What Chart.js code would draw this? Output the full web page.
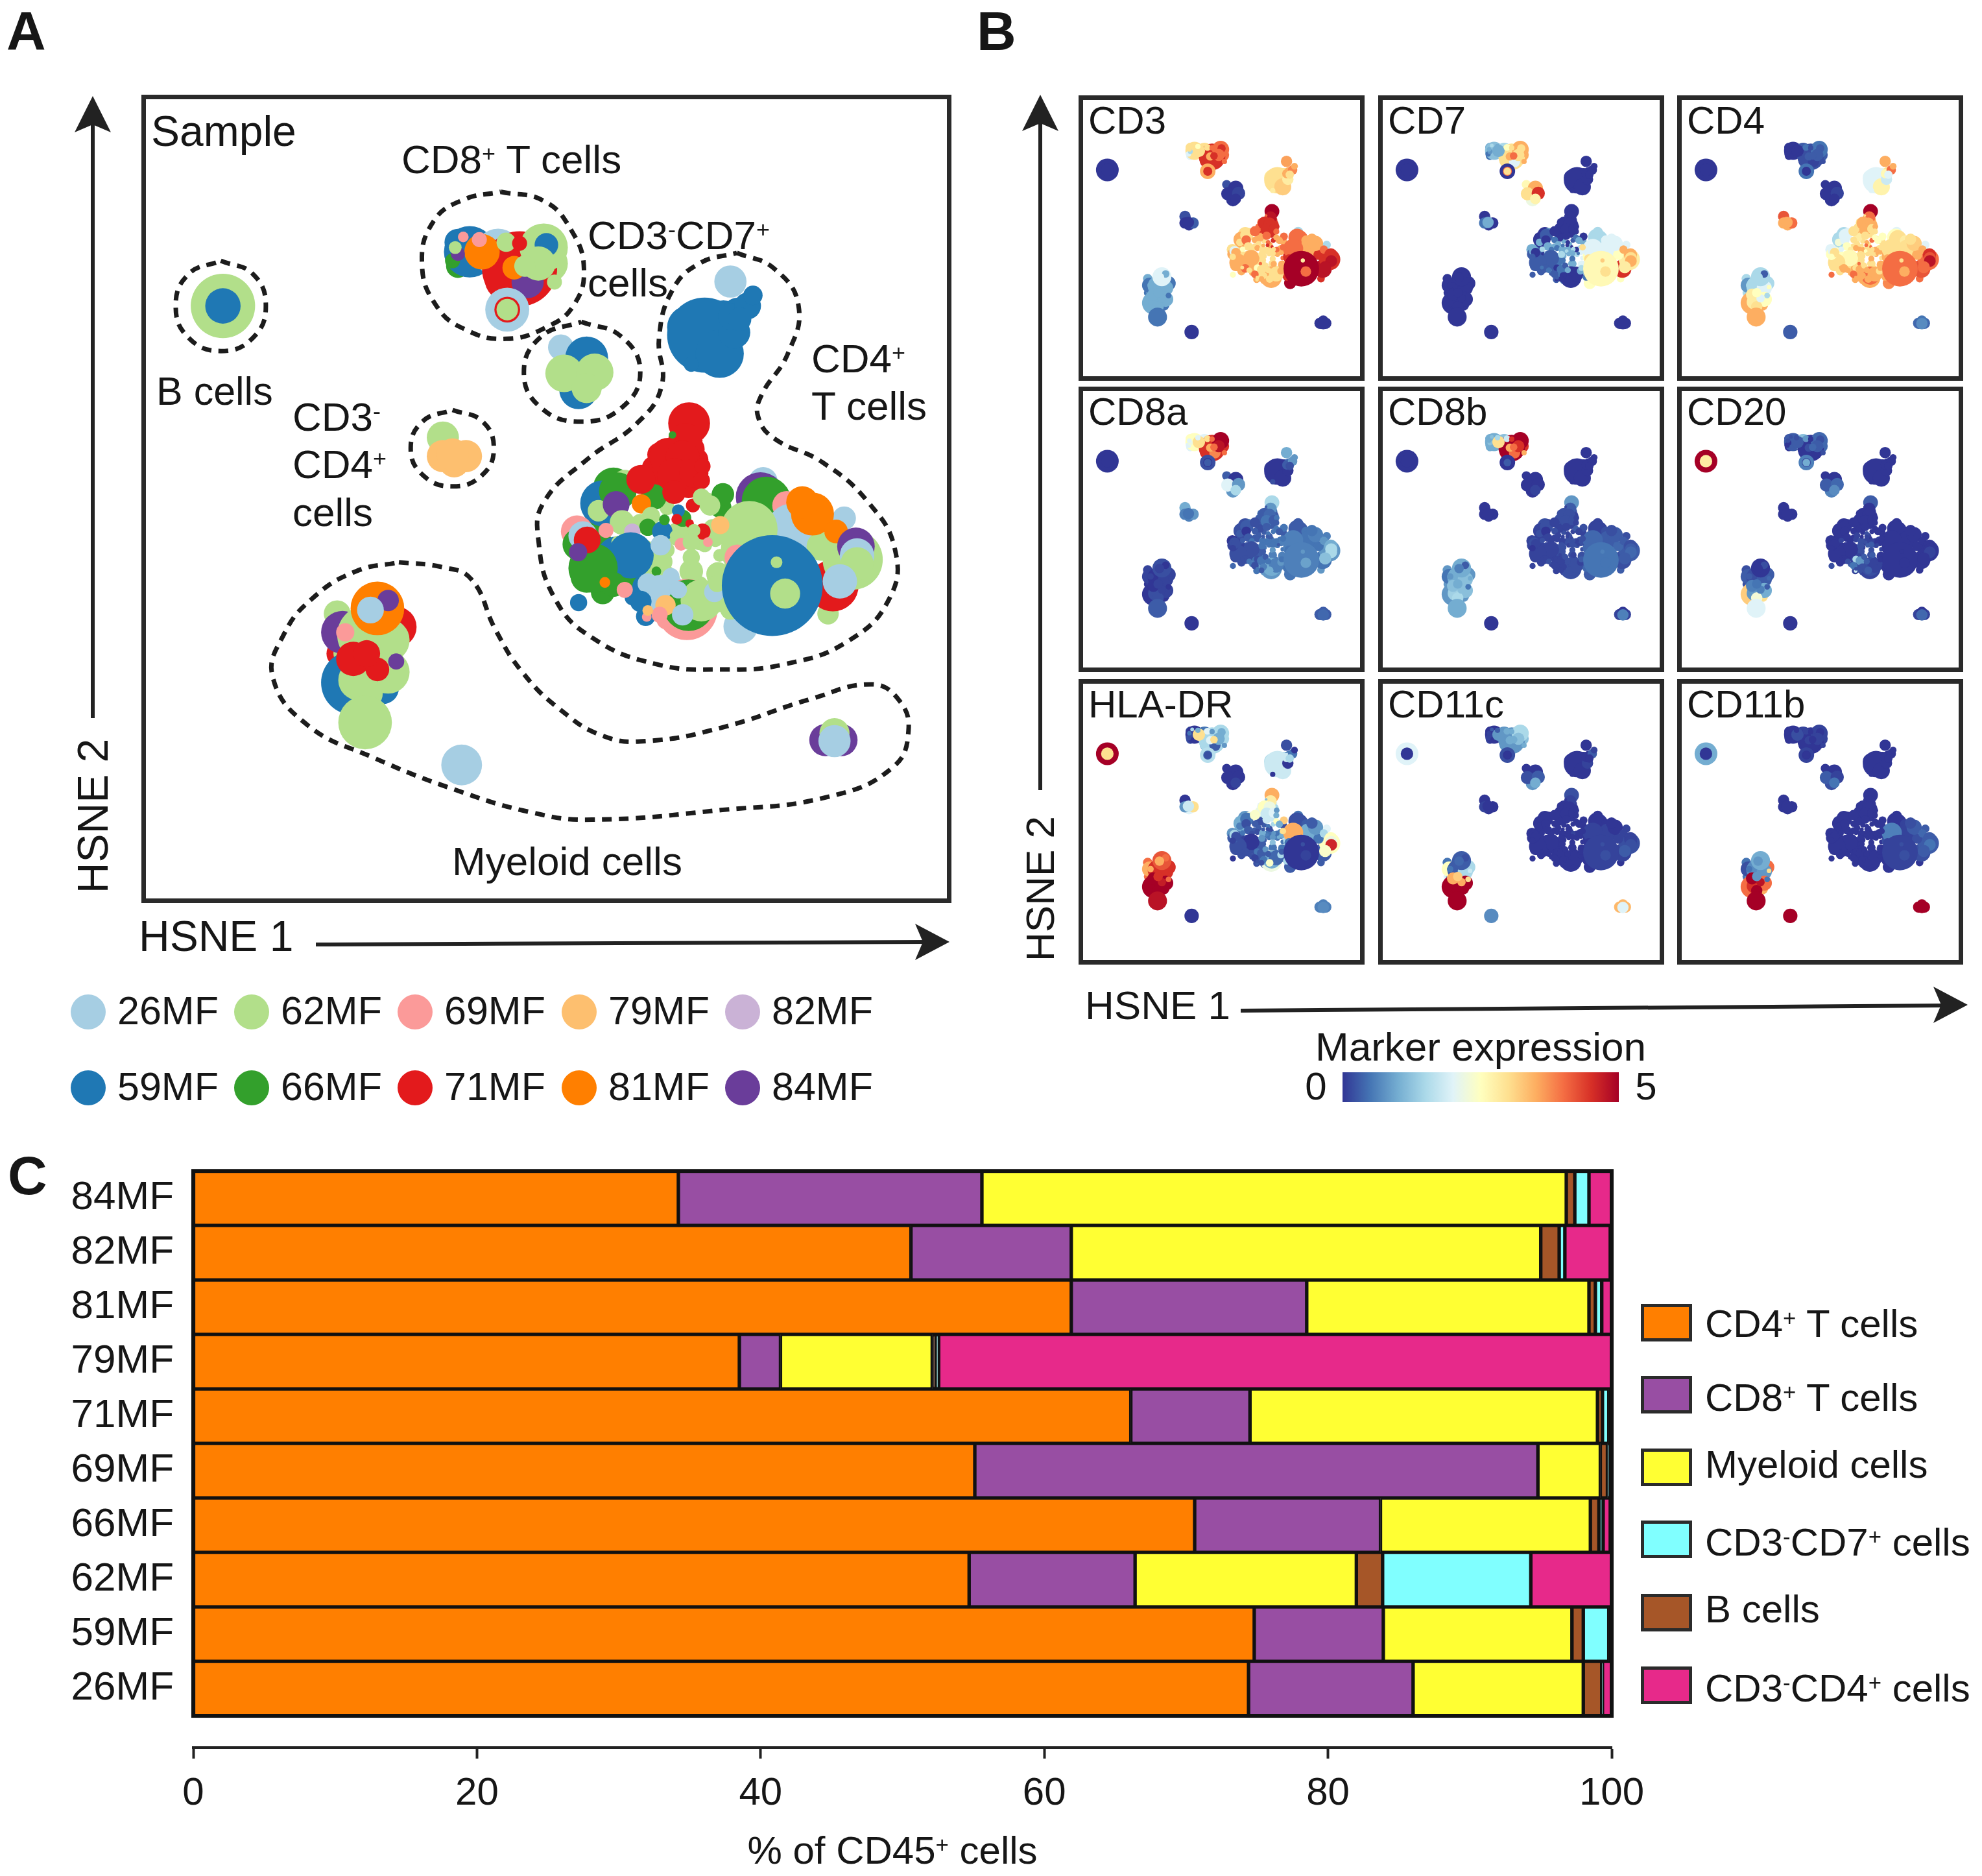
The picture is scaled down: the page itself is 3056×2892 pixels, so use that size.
<!DOCTYPE html>
<html>
<head>
<meta charset="utf-8">
<script src="https://cdn.jsdelivr.net/npm/chart.js@4"></script>
<style>
  html, body { margin: 0; padding: 0; background: #fff; overflow: hidden; }
  #page { position: relative; width: 3056px; height: 2892px; font-family: "Liberation Sans", Arial, sans-serif; color: #161616; }
  #page canvas { position: absolute; }
  .txt { position: absolute; white-space: nowrap; line-height: 1; transform: translateY(-50%); }
  .frame { position: absolute; box-sizing: border-box; border: 7px solid #2a2a2a; pointer-events: none; }
  .dot { position: absolute; width: 54px; height: 54px; border-radius: 50%; }
  .swatch { position: absolute; width: 79px; height: 58px; box-sizing: border-box; border: 5px solid #2b2b2b; }
  sup { font-size: .58em; line-height: 0; vertical-align: .5em; }
  svg { position: absolute; left: 0; top: 0; }
</style>
</head>
<body>
<div id="page">
  <svg width="3056" height="2892">
    <g stroke="#222" stroke-width="6" fill="#222">
      <line x1="143" y1="1107" x2="143" y2="170"/>
      <path d="M143 148 L171 204 L143 192 L115 204 Z" stroke="none"/>
      <line x1="487" y1="1456" x2="1430" y2="1452"/>
      <path d="M1464 1452 L1411 1480 L1423 1452 L1411 1424 Z" stroke="none"/>
      <line x1="1604" y1="1218" x2="1604" y2="170"/>
      <path d="M1604 146 L1632 202 L1604 190 L1576 202 Z" stroke="none"/>
      <line x1="1913" y1="1558" x2="3000" y2="1550"/>
      <path d="M3034 1549 L2981 1577 L2993 1549 L2981 1521 Z" stroke="none"/>
    </g>
  </svg>
</div>

<script>
// Samples, in the order of the bar chart (bottom to top)
const sampleNames = ["26MF", "59MF", "62MF", "66MF", "69MF", "71MF", "79MF", "81MF", "82MF", "84MF"];
const sampleColors = ["#a6cee3", "#1f78b4", "#b2df8a", "#33a02c", "#fb9a99", "#e31a1c", "#fdbf6f", "#ff7f00", "#cab2d6", "#6a3d9a"];
const legendRows = [["26MF", "62MF", "69MF", "79MF", "82MF"], ["59MF", "66MF", "71MF", "81MF", "84MF"]];

// Stacked bars, % of CD45+ cells per sample
const seriesNames = ["CD4⁺ T cells", "CD8⁺ T cells", "Myeloid cells", "B cells", "CD3⁻CD7⁺ cells", "CD3⁻CD4⁺ cells"];
const seriesColors = ["#ff7f00", "#984ea3", "#ffff33", "#a65628", "#80ffff", "#e7298a"];
const cd4Values = [74.4, 74.8, 54.7, 70.6, 55.1, 66.1, 38.5, 61.9, 50.6, 34.2];
const cd8Values = [11.6, 9.1, 11.7, 13.1, 39.7, 8.4, 2.9, 16.6, 11.3, 21.4];
const myeloidValues = [12.0, 13.3, 15.6, 14.8, 4.4, 24.5, 10.7, 19.9, 33.1, 41.2];
const bCellValues = [1.3, 0.8, 1.85, 0.6, 0.5, 0.35, 0.25, 0.45, 1.3, 0.6];
const cd3cd7Values = [0.05, 1.8, 10.45, 0.3, 0.1, 0.45, 0.2, 0.45, 0.4, 1.0];
const cd3cd4Values = [0.65, 0.2, 5.7, 0.5, 0.2, 0.2, 47.45, 0.7, 3.2, 1.6];
const percentTicks = [0, 20, 40, 60, 80, 100];

// HSNE embedding: sample, HSNE 1, HSNE 2, size
const hsneCells = [
  // cells lying underneath the others
  [71,700,370,40],[62,780,340,35],[66,610,345,22],[59,610,300,25],
  [59,1105,450,40],[59,1130,430,25],[59,1040,460,40],
  [79,603,715,28],
  [71,990,735,28],[71,1030,700,30],[71,975,725,22],[71,1045,690,25],[71,1000,765,22],[71,1040,760,22],[71,1055,710,22],[71,985,700,22],
  [66,880,960,22],[66,850,930,30],[66,870,880,35],[62,950,830,18],[62,960,880,18],[62,975,925,16],[62,1000,800,14],
  [62,1030,845,14],[62,1070,870,14],[62,1085,840,18],[62,1090,860,14],[62,1098,890,12],[62,1090,930,16],[62,1060,945,16],[62,1010,935,14],[62,975,900,14],[62,1000,880,14],
  [62,1150,880,50],[66,1100,800,20],
  [59,935,970,14],[59,965,990,16],[26,975,930,17],
  [62,450,1090,40],[71,390,1075,25],[62,385,1000,25],[62,400,1075,22],[71,480,1020,30],[59,430,1160,45],
  [62,1020,850,22],[62,1060,860,20],[62,1045,920,22],[62,995,930,22],[62,960,905,25],[62,1045,965,25],[62,1095,850,20],[62,1095,925,22],[59,905,890,35],[66,925,930,25],
  [66,870,830,25],[59,960,950,25],[26,1005,950,25],[26,985,985,22],[69,1000,1010,20],[59,960,1005,18],[62,1100,975,22],[62,1300,1000,20],[62,1075,790,18],[84,1295,1238,30],
  // B cells
  [62,172,420,60],[59,172,420,33],
  // CD8+ T cells
  [59,632,318,48],[26,685,320,45],[71,725,350,70],[62,770,310,45],[59,775,305,22],[84,740,375,30],[81,655,318,33],
  [81,715,348,22],[62,760,340,32],[62,790,375,14],[62,700,300,18],[62,735,345,20],[71,725,302,14],[69,650,295,14],
  [69,620,290,10],[66,600,335,14],[84,610,322,13],[62,605,310,12],[26,702,427,41],[71,702,427,24],[62,702,427,20],
  // CD3-CD7+ cells
  [26,802,498,24],[59,850,518,40],[59,835,578,36],[62,808,547,35],[62,865,545,35],[62,850,575,28],
  // CD4+ T cells, upper island
  [26,1118,374,30],[59,1070,475,70],[59,1098,510,45],[59,1125,470,30],[59,1120,440,25],[59,1150,420,25],[59,1160,400,18],[59,1045,530,14],[59,1135,445,22],
  // CD3-CD4+ cells
  [62,582,668,30],[79,582,703,30],[79,625,703,30],[79,600,700,30],
  // CD4+ T cells, upper left
  [66,900,763,38],[62,921,751,22],[59,881,792,43],[66,908,769,35],[62,872,806,20],[66,975,780,24],[81,952,793,18],[84,905,794,25],
  // CD4+ T cells, red arm
  [71,1041,641,39],[71,1034,673,32],[71,1002,704,35],[71,1029,706,32],[71,951,747,27],[71,1013,739,32],[71,1050,735,27],[71,1066,722,15],
  [71,1064,749,16],[71,1013,771,22],[71,1048,796,13],[66,1010,663,7],[62,1064,780,16],[66,1104,775,21],[62,1080,796,19],
  // CD4+ T cells, centre
  [62,970,816,17],[66,964,837,16],[59,991,845,19],[66,1029,820,16],[59,1021,806,12],[71,1018,822,10],[66,995,823,10],[71,1066,845,15],[71,1042,830,8],
  [62,1050,843,12],[62,1015,853,10],[69,1026,869,12],[69,1076,865,9],[62,1045,865,16],[62,1045,894,16],[62,1050,922,16],[62,991,902,19],
  // CD4+ T cells, middle left
  [62,916,828,23],[69,886,843,14],[82,935,845,15],[62,908,865,12],[59,932,890,43],[26,988,871,19],
  // CD4+ T cells, left
  [69,832,845,30],[66,862,914,46],[66,835,869,30],[26,843,853,27],[71,851,861,25],[84,834,884,17],[66,900,945,23],[81,884,941,10],[69,921,955,15],[66,980,920,9],[59,835,979,16],
  // CD4+ T cells, bottom
  [69,1037,992,57],[66,1040,984,48],[62,1064,975,39],[26,964,943,19],[26,986,951,24],[26,1007,930,16],[26,1021,955,16],[26,1088,959,19],[59,951,977,20],[79,997,984,19],[69,986,1002,15],[69,962,1006,9],[79,964,994,10],[26,1029,1002,20],
  // CD4+ T cells, right
  [26,1179,751,27],[84,1174,780,46],[66,1185,788,46],[26,1330,820,22],[69,1223,796,27],[71,1309,947,48],[62,1346,898,56],[26,1233,841,48],[62,1287,873,27],[62,1153,841,53],[79,1099,833,17],[81,1271,812,40],[81,1252,790,30],
  [81,1315,845,22],[84,1352,873,35],[26,1354,890,32],[62,1354,906,31],[26,1322,939,32],[69,1131,894,24],[26,1137,1024,32],[62,1118,992,19],[62,1093,943,16],[59,1196,947,94],[62,1204,903,11],[62,1220,962,28],
  // Myeloid cells
  [71,495,1025,38],[84,395,1035,40],[62,440,1040,55],[62,480,1050,40],[69,400,1035,17],[81,460,990,50],[84,480,975,20],[26,447,993,25],[59,415,1130,60],[59,470,1140,30],
  [62,480,1110,40],[62,425,1125,38],[62,440,1150,30],[62,437,1205,50],[71,415,1085,32],[71,460,1105,22],[71,440,1075,25],[84,495,1090,15],[62,505,1045,12],
  [26,617,1285,38],
  [84,1325,1238,30],[62,1312,1225,28],[26,1312,1240,30]
];

// Marker expression (0-5) for every cell above, same order and same groups
const exprCD3 = [
  4.5,4,2,3, 3,3.5,2.8, 0, 4.5,4.5,4,4.5,4,4.5,4.5,4, 3.5,3.5,3,3,3,3,3, 3,3.5,3.5,3.5,4,3.5,3,3,3,3, 4.5,3.5, 3.5,3.5,3, 1,.5,1,1,.5,.5,
  3,3.5,3,3,3,3.5,3.5,3.5,3,3.5,3,3.5,3,3,3.5,3.5,4,4.5,3,0,
  0,0,
  3,3,4.5,4,4.5,4.5,3,3.5,4,4,3,4.5,4,2.5,3,2,1.5,3,3.5,4.5,4.5,
  .2,0,0,0,.1,0,
  3.6,3,3.2,2.8,3.5,3.8,3.5,2.8,3,
  .2,0,.3,0,
  3,3,3.5,3,3,3.5,3.5,4,
  5,4.8,4.5,4.5,4,4.5,4.5,4.5,4,4,4.5,4,3.5,4,3.5,
  3,3.5,3,3.5,4,4.5,3.5,4,4.5,3,3,3,3.5,3,3,3.5,3,
  3,2.5,3,3,3.5,3,
  3,3.5,3.5,2,3.5,3,4,3,3,4,2.5,
  3.5,3.5,3,2.5,3,3,3,3.5,4,3,3.5,3,3,3,
  1.5,4,4,1.5,3.5,4.8,4.5,3.5,4.5,4,4,3.5,3.5,4,4.5,4.5,4.8,4.8,4.5,5,4.5,3.5,5,2.8,4,
  .5,.5,1,1,1,2,1,2,1,.5,1,1,1,.5,1,1,1,.5,1,
  0,
  0,0,0
];
const exprCD7 = [
  3,3.5,.5,1, 0,0,0, 0, 0,0,0,0,0,0,0,0, .3,.3,.3,1,1,1,1, 1,1.5,1.5,2,2,2,2,1,1,1, 2.5,1, .3,.3,1, 0,0,0,0,0,0,
  1,1.5,1,1,.5,1,2,2,0,.3,.3,.3,.5,.5,.5,.3,1.5,2.5,.5,0,
  0,0,
  1.2,1.5,3,3.5,3,2,1,3.5,3,3.5,2.5,4,3,1,1.5,.5,.8,1,0,4,3,
  2.6,3.5,2.2,3,4.5,2.7,
  0,0,0,0,0,0,0,0,0,
  0,.5,0,1,
  0,.8,0,.3,1,0,.5,0,
  0,0,0,0,0,0,0,0,0,0,.3,0,.5,0,1,
  1,.5,1,1,0,0,.5,0,0,1.5,1.5,1,.5,1,.5,1,.5,
  1,1.5,.5,1.5,.3,1.5,
  1,.3,.3,1,0,.3,.3,.5,.5,.5,.3,
  0,0,0,0,.5,.3,1,1,.3,0,0,0,.3,0,
  1.5,1.5,1.5,2,2,4.5,2.8,2,2.5,2,3,2,2,3.5,3.5,3,3.5,2.8,3,2.5,.5,1.5,2.6,3.2,3,
  0,0,0,0,0,0,0,0,0,0,0,0,0,0,0,0,0,0,0,
  0,
  0,0,0
];
const exprCD4 = [
  .2,.3,0,0, 2.2,3,2, 3.5, 3.5,3.5,3,3.5,3,3,3.5,3, 3,3,2.5,3,3,3,3, 3,3.5,3,3,3,3,3,3,3,3, 3.5,3, 3.5,3.5,3.5, 2.5,1.5,1.5,1.5,1.8,3.5,
  3,3,3,3,3,3.5,3.5,3.5,2.5,3,2.5,3.5,3,3.5,3.5,3.5,3.5,4,2.8,.4,
  0,0,
  0,.3,.2,.5,.3,.1,0,.3,.3,.2,.5,.3,.2,0,0,0,0,0,.5,0,0,
  0,0,0,0,.1,0,
  3.5,2,2.7,1.8,2.6,4,3.5,2,2,
  4.2,3.5,4,3.5,
  1.5,2,1.5,2,2.3,2.8,3,2,
  5,4,3.5,3.5,3,3.5,3,3.5,3,3,4,3,2.5,2.5,2.5,
  3,3.5,3.5,3,3.5,4,3,3.5,4,3,2.5,3,3.5,3,3.5,3,3,
  2.5,2,2.8,2.5,2.6,3,
  2,3,2.5,2,3,2.5,3.5,3.5,3.5,4,4,
  3.5,4,3.5,3,3.5,3,3.5,3,4,3.5,3.5,3.5,3.5,3.5,
  2,2.5,3,2,2.8,4.2,4,3,3.5,3,3,3.2,3,3.5,4.5,4.2,4.8,4,3.5,3.8,3.5,3.5,4,3,3.5,
  1.5,.8,1.5,2,1.5,1.5,.3,1.5,3.5,3.5,2.5,2.8,3,3.5,2.8,2,2.5,1.5,2.5,
  .3,
  .4,.5,.7
];
const exprCD8a = [
  4.5,4.5,2,2.5, .2,.5,0, .6, .3,.3,.3,.5,.3,.3,.3,.5, .2,.1,.2,.3,.3,.3,.3, .5,.5,.5,.5,.5,.5,.5,.5,.5,.5, .6,.3, .5,.5,.8, .1,0,.1,.1,.1,.2,
  .5,.5,.6,.5,.3,.8,.6,.6,.1,.2,.1,.5,.8,.8,.8,.5,.6,.8,.5,.3,
  0,0,
  2.5,2,4.5,5,5,3.8,3,3.5,4.8,4,3,4,4,2,2.5,2,2.2,2,.2,0,.3,
  .3,0,.8,2,.8,1.5,
  1,0,0,0,.3,.8,.8,.2,.2,
  1,.6,.8,.5,
  .2,.5,.2,.3,.3,.2,.3,0,
  1.5,.8,.3,.4,.2,.5,.3,.5,.3,.3,.5,.3,.5,.5,.3,
  .3,.3,.5,.3,.5,.3,.3,.5,.3,.5,.5,.5,.3,.5,.8,.6,.3,
  .3,.3,.5,.3,.2,.5,
  0,.2,.1,.2,.2,.1,.2,.2,.5,.3,.4,
  .8,1,.6,.2,.5,.3,.5,.8,.2,.6,.3,.5,.5,1,
  .3,.3,.3,.6,.5,.5,.8,.5,.5,.6,.5,.6,.5,.8,1,1.5,1.5,1.2,.5,.5,.5,.5,.6,.8,.9,
  .1,.1,0,.1,.1,.2,0,.1,0,0,.1,.2,.2,.3,0,.1,.1,0,.1,
  0,
  .3,.3,.4
];
const exprCD8b = [
  4.5,4.5,1,1, 0,0,0, 0, .2,.2,.2,.2,.1,.1,.1,.2, .1,.1,.1,.1,.2,.2,.2, .2,.2,.2,.2,.2,.2,.2,.2,.2,.2, .4,.1, .1,.1,.1, 1,.8,.8,.8,1,1,
  .2,.2,.2,.2,.2,.2,.2,.2,.1,.1,.1,.1,.2,.1,.1,.1,.3,.3,.2,.1,
  0,0,
  1,1.2,5,5,5,4,3,3.5,4.5,3.5,1.8,4,4.5,1.5,1.2,1,1.2,1,0,0,.3,
  0,0,0,0,0,.1,
  0,0,0,0,0,0,0,0,0,
  0,0,0,0,
  .2,.1,.1,.2,.2,.1,.2,0,
  .8,.3,.2,.2,.1,.2,.2,.1,.1,.1,.1,.1,.3,.2,.1,
  .1,.1,.1,.2,.1,.1,.1,.1,.1,.2,.2,.1,.1,.2,.2,.1,.2,
  .1,.2,.1,.2,.1,.2,
  .1,.1,.1,.2,.1,0,.1,.1,.2,.1,.1,
  .2,.2,.2,.1,.1,.2,.2,.1,.1,.1,.1,.1,.1,.2,
  .1,.1,.1,.2,.2,.2,.3,.3,.4,.4,.2,.3,.2,.3,.2,.3,.4,.3,.4,.3,.4,.3,.5,.6,.5,
  .8,.5,1,1.2,.8,1,.3,.6,.8,.8,1.2,1.4,1.5,1,1.2,1.2,1,.5,1,
  0,
  .1,0,.6
];
const exprCD20 = [
  .2,.4,0,.2, 0,0,0, 0, 0,0,0,0,0,0,0,0, 0,0,0,0,0,0,0, .1,.1,.1,.1,.1,.1,.1,.1,.1,.1, 0,0, .3,.3,1, .6,.2,.2,.3,.3,2.8,
  .1,.1,.2,.1,.1,.1,0,0,0,0,0,.1,.1,.2,.2,.1,0,0,0,.1,
  5,2.8,
  .3,1.2,0,.4,.2,0,.3,.2,.3,.2,.8,.4,0,.2,.2,0,0,.2,.6,.2,1,
  0,0,.6,.3,.4,.7,
  0,0,0,0,0,0,0,0,0,
  0,0,0,0,
  0,0,0,0,0,0,0,0,
  .3,0,0,0,0,0,0,0,0,0,0,0,0,0,0,
  .1,.1,.2,.1,.2,.1,0,0,0,.1,.2,.3,.1,.3,.2,.3,.2,
  0,.1,0,0,0,.2,
  0,0,0,0,0,0,0,0,.2,.1,.2,
  .1,.2,.1,1.5,.8,.3,.3,.1,.5,.2,.2,1.8,.2,.3,
  0,0,0,0,0,0,0,0,0,0,0,0,0,0,0,0,.1,0,0,0,0,0,0,0,0,
  .3,.3,.2,.3,.3,0,.2,0,3.2,3,1,.8,2.3,2,.6,.6,.5,.3,.4,
  0,
  .1,0,.4
];
const exprHLADR = [
  1,1.5,.2,.2, 1.5,.5,1.5, 2, 2,2,2.2,2,1.5,1.8,1.5,2, .2,.2,.2,.3,.3,.3,.3, .5,.5,.6,.6,.5,.5,.5,.3,.3,.3, 1.5,.2, .2,.2,.5, 5,4,4,4,4.5,5,
  .5,.6,.5,.4,.3,.3,1,.5,.1,.2,.3,.2,.6,.3,.3,.2,.3,.3,1.5,.6,
  5,3,
  0,.5,1.5,1.5,1,.3,3,2,1,.8,2,3,.8,1,1.5,.2,.2,.5,1.6,.4,.2,
  0,0,0,0,0,.1,
  .2,1.8,1.8,0,1.8,.5,0,0,1.5,
  0,.8,3,1.8,
  .8,2.2,1,.5,.6,.2,.3,.2,
  3.5,2.8,2.5,2.2,2.4,1.8,2,.8,1,1.8,1.5,1.2,2.5,3.2,1,
  .3,.2,1,.2,.5,.2,.3,.5,.2,.8,.6,.5,1,.8,1.2,.5,.3,
  .3,.5,.2,.2,0,.8,
  .8,.2,.3,1.5,.2,.1,.2,.2,.2,.3,0,
  2.2,1,.4,.5,.3,.8,.3,1.5,.1,.5,.2,.3,.2,2.4,
  .5,.2,.2,2,.3,.3,2.5,1,.5,3.5,3,.8,.3,1.5,2.5,2.2,4.6,2.4,.5,.3,1.5,.3,0,.2,.1,
  4.5,3.5,4.5,4.5,3.5,4.2,4,3.5,5,5,5,5,5,4.8,5,4.7,4.5,4,4.5,
  0,
  .6,.6,.7
];
const exprCD11c = [
  .8,1.2,.1,0, 0,0,0, 0, 0,0,0,0,0,0,0,0, 0,0,0,0,0,0,0, 0,0,0,0,0,0,0,0,0,0, 0,0, 0,0,0, 4,2,.5,1,1.5,5,
  0,0,0,0,0,0,0,0,0,0,0,0,0,0,0,0,0,0,0,3.4,
  2,0,
  0,.8,.8,1.5,1.5,.8,.8,1,1.2,1,1,1,1,.3,.3,.1,.1,.1,.2,0,0,
  0,0,.8,.2,.3,1,
  0,0,0,.1,0,.3,.1,0,0,
  0,.1,0,0,
  0,0,0,0,0,0,0,0,
  .2,.1,0,0,0,0,0,0,0,0,0,0,0,0,0,
  0,0,0,0,0,0,0,0,0,.1,0,0,0,0,0,0,0,
  0,0,0,0,0,0,
  0,0,0,0,0,0,0,0,0,0,0,
  0,0,0,0,0,0,0,0,0,0,0,0,0,0,
  0,0,0,.1,0,.1,.2,.1,.1,.1,0,0,0,.1,.1,.1,.2,.3,0,0,0,0,.1,.2,.2,
  1.5,2.5,.3,1.5,.5,.3,.2,.4,5,5,5,5,5,5,3.5,3.5,3.2,3,1.8,
  .7,
  3.4,3.4,2
];
const exprCD11b = [
  0,.1,0,0, 0,0,0, 0, 0,0,0,0,0,0,0,0, 0,0,0,0,0,0,0, 0,0,0,0,0,0,0,0,0,0, .2,0, 0,0,0, 3.5,.5,.5,.8,3.5,4,
  0,0,0,0,0,0,0,0,0,0,0,0,0,0,0,0,0,0,0,5,
  1,0,
  0,.1,0,.1,0,0,.2,.1,.1,.1,.1,0,0,0,0,0,0,0,.1,0,0,
  0,0,.2,.3,.1,.5,
  0,0,0,0,0,0,0,0,0,
  0,0,0,0,
  0,0,0,0,0,0,0,0,
  0,0,0,0,0,0,0,0,0,0,0,0,0,0,0,
  0,0,0,0,0,0,0,0,0,0,0,0,0,0,0,0,0,
  0,0,0,0,0,0,
  0,0,0,0,0,0,0,0,0,0,0,
  0,0,0,0,0,0,0,0,0,0,0,0,0,0,
  0,0,0,.3,.1,.2,.3,.1,.2,.6,0,.3,.2,.4,.3,.3,.5,.3,.1,0,0,0,.1,.2,.2,
  4,.2,.7,.8,.5,1,1,.8,4,3.5,4,4.5,5,5,5,4.8,.8,.5,3,
  5,
  5,5,5
];
const markerNames = ["CD3", "CD7", "CD4", "CD8a", "CD8b", "CD20", "HLA-DR", "CD11c", "CD11b"];
const markerValues = [exprCD3, exprCD7, exprCD4, exprCD8a, exprCD8b, exprCD20, exprHLADR, exprCD11c, exprCD11b];

// Colour scale of the marker panels, evenly spaced from 0 to 5
const exprColors = ["#313695", "#4575b4", "#74add1", "#abd9e9", "#e0f3f8", "#ffffbf", "#fee090", "#fdae61", "#f46d43", "#d73027", "#a50026"];

// Dashed gates drawn around the populations, in HSNE coordinates
const gateB = [[168,335],[228,360],[252,420],[228,480],[168,505],[108,480],[84,420],[108,360],[168,335]];
const gateCD8 = [[690,205],[770,222],[820,275],[845,350],[825,420],[775,460],[700,482],[625,465],[570,420],[543,340],[565,260],[620,220],[690,205]];
const gateCD3CD7 = [[840,450],[915,478],[950,545],[915,612],[840,638],[765,612],[733,545],[765,478],[840,450]];
const gateCD3CD4 = [[600,616],[655,637],[677,688],[655,739],[600,760],[545,739],[522,688],[545,637],[600,616]];
const gateCD4 = [[1130,320],[1200,350],[1245,420],[1225,510],[1175,590],[1170,630],[1200,670],[1290,715],[1375,790],[1425,880],[1415,970],[1340,1050],[1220,1095],[1100,1105],[980,1095],[860,1045],[790,970],[760,860],[770,790],[850,710],[945,640],[990,570],[985,480],[1010,390],[1060,340],[1130,320]];
const gateMyeloid = [[500,903],[580,912],[635,935],[680,1030],[730,1110],[800,1180],[880,1230],[960,1240],[1100,1215],[1270,1160],[1380,1133],[1430,1160],[1450,1220],[1420,1290],[1300,1345],[1100,1370],[860,1388],[750,1375],[600,1330],[450,1270],[330,1210],[265,1120],[285,1040],[340,970],[420,920],[500,903]];
const gates = [gateB, gateCD8, gateCD3CD7, gateCD3CD4, gateCD4, gateMyeloid];

const hsneXRange = [20, 1530];
const hsneYRange = [22, 1545];

const page = document.getElementById("page");
const FONT = '"Liberation Sans", Arial, sans-serif';
Chart.defaults.font.family = FONT;
Chart.defaults.animation = false;

function addCanvas(left, top, width, height) {
  const canvas = document.createElement("canvas");
  canvas.width = width;
  canvas.height = height;
  canvas.style.left = left + "px";
  canvas.style.top = top + "px";
  canvas.style.width = width + "px";
  canvas.style.height = height + "px";
  page.appendChild(canvas);
  return canvas;
}

function addText(html, x, y, size, extra) {
  const el = document.createElement("div");
  el.className = "txt";
  el.innerHTML = html;
  el.style.left = x + "px";
  el.style.top = y + "px";
  el.style.fontSize = size + "px";
  if (extra) Object.assign(el.style, extra);
  page.appendChild(el);
  return el;
}

function addFrame(left, top, width, height) {
  const el = document.createElement("div");
  el.className = "frame";
  el.style.cssText = `left:${left}px;top:${top}px;width:${width}px;height:${height}px`;
  page.appendChild(el);
}

// Map an expression value onto the colour scale
function exprColor(value) {
  const pos = Math.min(Math.max(value, 0), 5) * 2;
  const i = Math.min(Math.floor(pos), exprColors.length - 2);
  const t = pos - i;
  const a = exprColors[i], b = exprColors[i + 1];
  const part = (hex, k) => parseInt(hex.substr(1 + k * 2, 2), 16);
  const mix = [0, 1, 2].map((k) => Math.round(part(a, k) + (part(b, k) - part(a, k)) * t));
  return `rgb(${mix.join(",")})`;
}

function sampleColor(id) {
  return sampleColors[sampleNames.indexOf(id + "MF")];
}

// One HSNE map: all cells as one bubble dataset, so the drawing order is kept
function renderHsne(left, top, width, height, colorOf, withGates) {
  const scale = width / (hsneXRange[1] - hsneXRange[0]);
  const datasets = [{
    type: "bubble",
    data: hsneCells.map((c) => ({ x: c[1], y: c[2], r: c[3] * scale })),
    backgroundColor: hsneCells.map(colorOf),
    borderWidth: 0,
    hoverRadius: 0,
    order: 2,
  }];
  if (withGates) {
    gates.forEach((gate) => {
      datasets.push({
        type: "line",
        data: gate.map((p) => ({ x: p[0], y: p[1] })),
        borderColor: "#1c1c1c",
        borderWidth: 7,
        borderDash: [15, 11],
        pointRadius: 0,
        fill: false,
        tension: 0.45,
        order: 1,
      });
    });
  }
  new Chart(addCanvas(left, top, width, height), {
    data: { datasets: datasets },
    options: {
      responsive: false,
      devicePixelRatio: 1,
      layout: { padding: 0, autoPadding: false },
      plugins: { legend: { display: false }, tooltip: { enabled: false } },
      scales: {
        x: { type: "linear", display: false, min: hsneXRange[0], max: hsneXRange[1] },
        y: { type: "linear", display: false, reverse: true, min: hsneYRange[0], max: hsneYRange[1] },
      },
    },
  });
  addFrame(left, top, width, height);
}

// Panel A
renderHsne(218, 146, 1249, 1246, (c) => sampleColor(c[0]), true);
addText("Sample", 233, 202, 66);
addText("CD8<sup>+</sup> T cells", 619, 246, 62);
addText("CD3<sup>-</sup>CD7<sup>+</sup>", 906, 363, 62);
addText("cells", 906, 436, 62);
addText("B cells", 241, 603, 61);
addText("CD4<sup>+</sup>", 1251, 553, 62);
addText("T cells", 1251, 626, 62);
addText("CD3<sup>-</sup>", 451, 643, 62);
addText("CD4<sup>+</sup>", 451, 716, 62);
addText("cells", 451, 790, 62);
addText("Myeloid cells", 697, 1328, 62);
addText("HSNE 1", 214, 1443, 66);
addText("HSNE 2", 143, 1258, 66, { transform: "translate(-50%,-50%) rotate(-90deg)" });

// Sample legend
const legendX = [136, 388, 640, 893, 1145];
const legendY = [1560, 1677];
legendRows.forEach((row, r) => {
  row.forEach((name, c) => {
    const dot = document.createElement("div");
    dot.className = "dot";
    dot.style.left = legendX[c] - 27 + "px";
    dot.style.top = legendY[r] - 27 + "px";
    dot.style.background = sampleColors[sampleNames.indexOf(name)];
    page.appendChild(dot);
    addText(name, legendX[c] + 45, legendY[r] - 2, 61);
  });
});

// Panel B
const panelX = [1663, 2125, 2586];
const panelY = [147, 596, 1047];
const panelW = 441;
const panelH = 440;
markerNames.forEach((name, i) => {
  const col = i % 3, row = Math.floor(i / 3);
  const values = markerValues[i];
  renderHsne(panelX[col], panelY[row], panelW, panelH, (c) => exprColor(values[hsneCells.indexOf(c)] || 0), false);
  addText(name, panelX[col] + 15, panelY[row] + 39, 60);
});
addText("HSNE 1", 1673, 1550, 62);
addText("HSNE 2", 1604, 1370, 62, { transform: "translate(-50%,-50%) rotate(-90deg)" });
addText("Marker expression", 2283, 1614, 62, { transform: "translate(-50%,-50%)" });
addText("0", 2029, 1675, 60, { transform: "translate(-50%,-50%)" });
addText("5", 2538, 1675, 60, { transform: "translate(-50%,-50%)" });
const colorBar = document.createElement("div");
colorBar.style.cssText = `position:absolute;left:2070px;top:1653px;width:426px;height:46px;background:linear-gradient(to right,${exprColors.join(",")})`;
page.appendChild(colorBar);

// Panel letters
addText("A", 10, 48, 84, { fontWeight: "bold" });
addText("B", 1506, 48, 84, { fontWeight: "bold" });
addText("C", 12, 1812, 84, { fontWeight: "bold" });

// Panel C: stacked bars. The y axis is linear so that it runs on below the bars to the x axis.
const barSeries = [cd4Values, cd8Values, myeloidValues, bCellValues, cd3cd7Values, cd3cd4Values];
const framePlugin = {
  id: "barFrame",
  afterDatasetsDraw(chart) {
    const { ctx, scales } = chart;
    const top = scales.y.getPixelForValue(9.5), bottom = scales.y.getPixelForValue(-0.5);
    const left = scales.x.getPixelForValue(0), right = scales.x.getPixelForValue(100);
    ctx.save();
    ctx.strokeStyle = "#111";
    ctx.lineWidth = 6;
    ctx.strokeRect(left, top, right - left, bottom - top);
    ctx.restore();
  },
};
new Chart(addCanvas(0, 1738, 2600, 1154), {
  type: "bar",
  data: {
    datasets: barSeries.map((values, s) => ({
      label: seriesNames[s],
      data: values.map((v, i) => ({ x: v, y: i })),
      backgroundColor: seriesColors[s],
      borderColor: "#111",
      borderWidth: 3,
      borderSkipped: false,
      barPercentage: 1,
      categoryPercentage: 1,
    })),
  },
  options: {
    indexAxis: "y",
    responsive: false,
    devicePixelRatio: 1,
    layout: { padding: { top: 15, right: 115 }, autoPadding: false },
    plugins: { legend: { display: false }, tooltip: { enabled: false } },
    scales: {
      x: {
        type: "linear",
        stacked: true,
        min: 0,
        max: 100,
        afterFit: (s) => { s.height = 198; },
        afterBuildTicks: (s) => { s.ticks = percentTicks.map((v) => ({ value: v })); },
        border: { color: "#222", width: 4 },
        grid: { drawOnChartArea: false, drawTicks: true, tickLength: 17, tickWidth: 4, tickColor: "#222" },
        ticks: { font: { size: 60 }, color: "#161616", padding: 18, maxRotation: 0 },
      },
      y: {
        type: "linear",
        stacked: true,
        offset: false,
        min: -1.083,
        max: 9.5,
        afterFit: (s) => { s.width = 298; },
        afterBuildTicks: (s) => { s.ticks = sampleNames.map((n, i) => ({ value: i })); },
        border: { display: false },
        grid: { display: false, drawTicks: false, offset: false },
        ticks: { font: { size: 62 }, color: "#161616", padding: 30, autoSkip: false, callback: (v) => sampleNames[v] },
      },
    },
  },
  plugins: [framePlugin],
});
addText("% of CD45<sup>+</sup> cells", 1376, 2853, 60, { transform: "translate(-50%,-50%)" });

// Cell type legend
const legendNames = ["CD4<sup>+</sup> T cells", "CD8<sup>+</sup> T cells", "Myeloid cells", "CD3<sup>-</sup>CD7<sup>+</sup> cells", "B cells", "CD3<sup>-</sup>CD4<sup>+</sup> cells"];
const legendColors = ["#ff7f00", "#984ea3", "#ffff33", "#80ffff", "#a65628", "#e7298a"];
const legendSwatchY = [2039, 2150, 2262, 2373, 2486, 2598];
const legendTextY = [2041, 2155, 2258, 2378, 2481, 2603];
legendNames.forEach((name, i) => {
  const sw = document.createElement("div");
  sw.className = "swatch";
  sw.style.left = "2530px";
  sw.style.top = legendSwatchY[i] - 29 + "px";
  sw.style.background = legendColors[i];
  page.appendChild(sw);
  addText(name, 2629, legendTextY[i], 60);
});
</script>
</body>
</html>
